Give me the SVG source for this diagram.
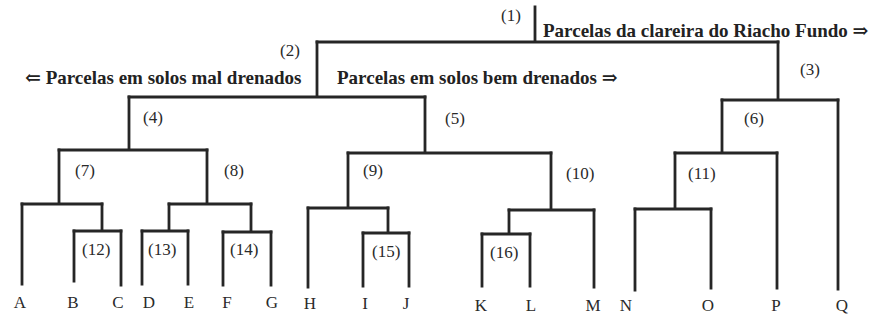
<svg xmlns="http://www.w3.org/2000/svg" width="878" height="320" viewBox="0 0 878 320">
<style>
.ln{fill:none;stroke:#262626;stroke-width:2.8;stroke-linecap:square;stroke-linejoin:miter}
text{font-family:'Liberation Serif','DejaVu Serif',serif}
.num{font-size:17px;fill:#2a2a2a}
.leaf{font-size:17px;fill:#2a2a2a;text-anchor:middle}
.hdr{font-size:19px;font-weight:bold;fill:#222}
</style>
<rect width="878" height="320" fill="#fff"/>
<g id="connectors" class="ln">
<path d="M535 7V42M317 42H778"/>
<path d="M317 42V97M129 97H425"/>
<path d="M778 42V100M722 100H838"/>
<path d="M129 97V150M59 150H207"/>
<path d="M425 97V153M348 153H551"/>
<path d="M722 100V153M675 153H777"/>
<path d="M59 150V204M22 204H102"/>
<path d="M207 150V204M169 204H251"/>
<path d="M348 153V208M308 208H388"/>
<path d="M551 153V210M509 210H594"/>
<path d="M675 153V209M635 209H711"/>
<path d="M102 204V231M74 231H121"/>
<path d="M169 204V231M142 231H188"/>
<path d="M251 204V232M223 232H271"/>
<path d="M388 208V233M363 233H409"/>
<path d="M509 210V234M482 234H530"/>
<path d="M22 204V284M74 231V281M121 231V285M142 231V284M188 231V284M223 232V285M271 232V285"/>
<path d="M308 208V287M363 233V286M409 233V286M482 234V286M530 234V286M594 210V287"/>
<path d="M635 209V290M711 209V288M777 153V288M838 100V289"/>
</g>
<g id="n1"><text class="num" x="501" y="21">(1)</text></g>
<g id="n2"><text class="num" x="280" y="56">(2)</text></g>
<g id="n3"><text class="num" x="800" y="75">(3)</text></g>
<g id="n4"><text class="num" x="143" y="123">(4)</text></g>
<g id="n5"><text class="num" x="445" y="124">(5)</text></g>
<g id="n6"><text class="num" x="744" y="124">(6)</text></g>
<g id="n7"><text class="num" x="75" y="176">(7)</text></g>
<g id="n8"><text class="num" x="224" y="176">(8)</text></g>
<g id="n9"><text class="num" x="363" y="176">(9)</text></g>
<g id="n10"><text class="num" x="566" y="179">(10)</text></g>
<g id="n11"><text class="num" x="688" y="179">(11)</text></g>
<g id="n12"><text class="num" x="82" y="255">(12)</text></g>
<g id="n13"><text class="num" x="148" y="255">(13)</text></g>
<g id="n14"><text class="num" x="230" y="255">(14)</text></g>
<g id="n15"><text class="num" x="372" y="257">(15)</text></g>
<g id="n16"><text class="num" x="490" y="258">(16)</text></g>
<g id="hdr1"><text class="hdr" x="543" y="37">Parcelas da clareira do Riacho Fundo ⇒</text></g>
<g id="hdr2"><text class="hdr" x="25" y="84">⇐ Parcelas em solos mal drenados</text></g>
<g id="hdr3"><text class="hdr" x="337" y="84">Parcelas em solos bem drenados ⇒</text></g>
<g id="leafA"><text class="leaf" x="20" y="308">A</text></g>
<g id="leafB"><text class="leaf" x="73" y="308">B</text></g>
<g id="leafC"><text class="leaf" x="118" y="308">C</text></g>
<g id="leafD"><text class="leaf" x="149" y="308">D</text></g>
<g id="leafE"><text class="leaf" x="189" y="308">E</text></g>
<g id="leafF"><text class="leaf" x="227" y="308">F</text></g>
<g id="leafG"><text class="leaf" x="272" y="308">G</text></g>
<g id="leafH"><text class="leaf" x="310" y="309">H</text></g>
<g id="leafI"><text class="leaf" x="365" y="309">I</text></g>
<g id="leafJ"><text class="leaf" x="406" y="309">J</text></g>
<g id="leafK"><text class="leaf" x="481" y="311">K</text></g>
<g id="leafL"><text class="leaf" x="531" y="311">L</text></g>
<g id="leafM"><text class="leaf" x="593" y="311">M</text></g>
<g id="leafN"><text class="leaf" x="626" y="311">N</text></g>
<g id="leafO"><text class="leaf" x="708" y="311">O</text></g>
<g id="leafP"><text class="leaf" x="776" y="311">P</text></g>
<g id="leafQ"><text class="leaf" x="842" y="311">Q</text></g>
</svg>
